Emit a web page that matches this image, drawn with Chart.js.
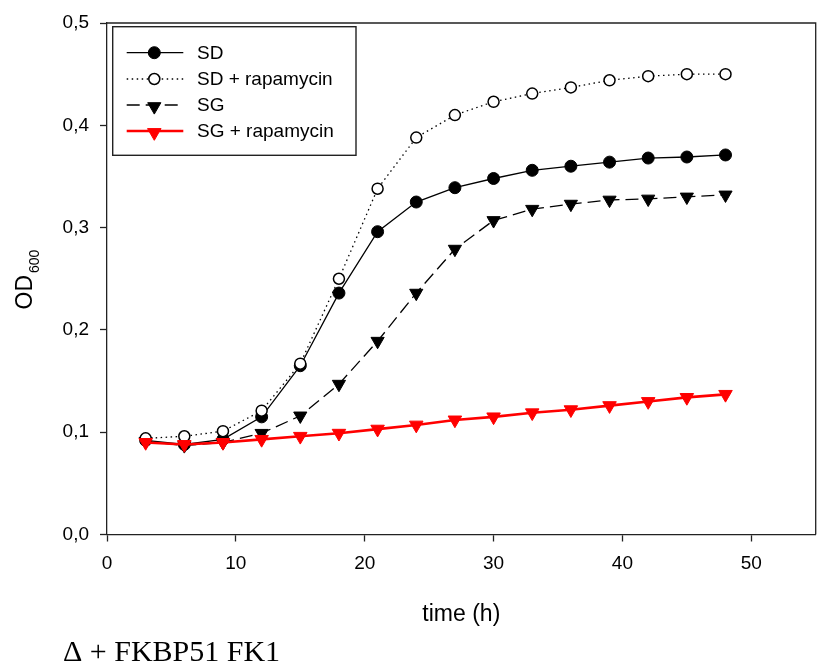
<!DOCTYPE html>
<html>
<head>
<meta charset="utf-8">
<script src="https://cdn.jsdelivr.net/npm/chart.js@4/dist/chart.umd.min.js"></script>
<style>
  html, body { margin: 0; padding: 0; background: #fff; overflow: hidden; }
  #c { display: block; }
</style>
</head>
<body>
<canvas id="c" width="817" height="666"></canvas>
<script>
// ---- data ----
const hours = [3, 6, 9, 12, 15, 18, 21, 24, 27, 30, 33, 36, 39, 42, 45, 48];
const sd     = [0.092, 0.088, 0.093, 0.115, 0.165, 0.236, 0.296, 0.325, 0.339, 0.348, 0.356, 0.360, 0.364, 0.368, 0.369, 0.371];
const sdRap  = [0.094, 0.096, 0.101, 0.121, 0.167, 0.250, 0.338, 0.388, 0.410, 0.423, 0.431, 0.437, 0.444, 0.448, 0.450, 0.450];
const sg     = [0.091, 0.087, 0.090, 0.099, 0.116, 0.147, 0.189, 0.236, 0.279, 0.307, 0.318, 0.323, 0.327, 0.328, 0.330, 0.332];
const sgRap  = [0.090, 0.088, 0.090, 0.093, 0.096, 0.099, 0.103, 0.107, 0.112, 0.115, 0.119, 0.122, 0.126, 0.130, 0.134, 0.137];
const seriesNames = ['SD', 'SD + rapamycin', 'SG', 'SG + rapamycin'];
const xTicks = [0, 10, 20, 30, 40, 50];
const yTicks = [0.0, 0.1, 0.2, 0.3, 0.4, 0.5];
const xTitle = 'time (h)';
const yTitleMain = 'OD';
const yTitleSub = '600';
const caption = 'Δ + FKBP51 FK1';

const pts = arr => hours.map((h, i) => ({ x: h, y: arr[i] }));
const SANS = '"Liberation Sans", Arial, sans-serif';
const SERIF = '"Liberation Serif", "Times New Roman", serif';
const AX = '#222';

const styles = [
  { color: '#000', fill: '#000', width: 1.3, dash: [], shape: 'circle', r: 6, bw: 1 },
  { color: '#000', fill: '#fff', width: 1.3, dash: [1.5, 3.5], shape: 'circle', r: 5.5, bw: 1.5 },
  { color: '#000', fill: '#000', width: 1.3, dash: [13, 6], shape: 'triangle', r: 7.6, bw: 1 },
  { color: '#ff0000', fill: '#ff0000', width: 2.6, dash: [], shape: 'triangle', r: 7.8, bw: 1 }
];
const seriesData = [sd, sdRap, sg, sgRap];
const orders = [2, 1, 3, 0];

const datasets = seriesData.map((arr, i) => {
  const s = styles[i];
  return {
    label: seriesNames[i],
    data: pts(arr),
    borderColor: s.color,
    borderWidth: s.width,
    borderDash: s.dash,
    backgroundColor: s.fill,
    pointStyle: s.shape,
    pointRotation: s.shape === 'triangle' ? 180 : 0,
    pointRadius: s.r,
    pointBorderWidth: s.bw,
    pointBorderColor: s.color,
    pointBackgroundColor: s.fill,
    fill: false,
    tension: 0,
    order: orders[i],
    clip: false
  };
});

function drawMarker(ctx, s, x, y) {
  ctx.save();
  ctx.setLineDash([]);
  ctx.lineWidth = s.bw;
  ctx.strokeStyle = s.color;
  ctx.fillStyle = s.fill;
  ctx.beginPath();
  if (s.shape === 'circle') {
    ctx.arc(x, y, s.r, 0, Math.PI * 2);
  } else {
    const r = s.r;
    ctx.moveTo(x, y + r);
    ctx.lineTo(x - r * Math.sin(Math.PI / 3), y - r / 2);
    ctx.lineTo(x + r * Math.sin(Math.PI / 3), y - r / 2);
    ctx.closePath();
  }
  ctx.fill();
  ctx.stroke();
  ctx.restore();
}

const decor = {
  id: 'decor',
  afterDraw(chart) {
    const ctx = chart.ctx;
    const a = chart.chartArea;
    ctx.save();
    ctx.strokeStyle = AX;
    ctx.lineWidth = 1.3;
    ctx.beginPath();
    ctx.moveTo(a.left, a.top);
    ctx.lineTo(a.right, a.top);
    ctx.lineTo(a.right, a.bottom);
    ctx.stroke();

    // legend box
    const bx = 112.7, by = 26.7, bw = 243.3, bh = 128.6;
    ctx.fillStyle = '#fff';
    ctx.fillRect(bx, by, bw, bh);
    ctx.strokeStyle = AX;
    ctx.lineWidth = 1.4;
    ctx.strokeRect(bx, by, bw, bh);
    const rows = [52.7, 79, 105, 131];
    seriesNames.forEach((name, i) => {
      const s = styles[i];
      const y = rows[i];
      ctx.save();
      ctx.strokeStyle = s.color;
      ctx.lineWidth = s.width;
      ctx.setLineDash(s.dash);
      ctx.beginPath();
      ctx.moveTo(126.7, y);
      ctx.lineTo(183.3, y);
      ctx.stroke();
      ctx.restore();
      drawMarker(ctx, s, 154.3, i >= 2 ? y + 1.5 : y);
      ctx.fillStyle = '#000';
      ctx.font = '19px ' + SANS;
      ctx.textAlign = 'left';
      ctx.textBaseline = 'middle';
      ctx.fillText(name, 197, y + 1);
    });

    // x title
    ctx.fillStyle = '#000';
    ctx.font = '23px ' + SANS;
    ctx.textAlign = 'center';
    ctx.textBaseline = 'alphabetic';
    ctx.fillText(xTitle, (a.left + a.right) / 2, 621);

    // y title with subscript
    ctx.save();
    ctx.translate(31.7, 309.5);
    ctx.rotate(-Math.PI / 2);
    ctx.textAlign = 'left';
    ctx.textBaseline = 'alphabetic';
    ctx.font = '23px ' + SANS;
    ctx.fillText(yTitleMain, 0, 0);
    const w = ctx.measureText(yTitleMain).width;
    ctx.font = '14px ' + SANS;
    ctx.fillText(yTitleSub, w + 2, 7.6);
    ctx.restore();

    // caption
    ctx.font = '30px ' + SERIF;
    ctx.textAlign = 'left';
    ctx.textBaseline = 'alphabetic';
    ctx.fillText(caption, 63, 661);
    ctx.restore();
  }
};

new Chart(document.getElementById('c'), {
  type: 'line',
  data: { datasets },
  options: {
    responsive: false,
    maintainAspectRatio: false,
    animation: false,
    events: [],
    layout: { autoPadding: false, padding: { top: 23, right: 1.3, left: 0, bottom: 0 } },
    plugins: { legend: { display: false }, title: { display: false }, tooltip: { enabled: false } },
    scales: {
      x: {
        type: 'linear',
        min: 0, max: 55,
        afterFit(scale) { scale.height = 131.5; scale.paddingLeft = 0; scale.paddingRight = 0; },
        afterBuildTicks(scale) { scale.ticks = xTicks.map(v => ({ value: v })); },
        grid: { display: true, drawOnChartArea: false, drawTicks: true, tickLength: 7, color: AX, tickWidth: 1.3 },
        border: { display: true, color: AX, width: 1.3 },
        ticks: { color: '#000', font: { family: SANS, size: 19 }, padding: 11, maxRotation: 0, autoSkip: false,
                 callback: v => String(v) }
      },
      y: {
        type: 'linear',
        min: 0, max: 0.5,
        afterFit(scale) { scale.width = 107; scale.paddingTop = 0; scale.paddingBottom = 0; },
        afterBuildTicks(scale) { scale.ticks = yTicks.map(v => ({ value: v })); },
        grid: { display: true, drawOnChartArea: false, drawTicks: true, tickLength: 7, color: AX, tickWidth: 1.3 },
        border: { display: true, color: AX, width: 1.3 },
        ticks: { color: '#000', font: { family: SANS, size: 19 }, padding: 11, autoSkip: false,
                 callback: v => Number(v).toFixed(1).replace('.', ',') }
      }
    }
  },
  plugins: [decor]
});
</script>
</body>
</html>
